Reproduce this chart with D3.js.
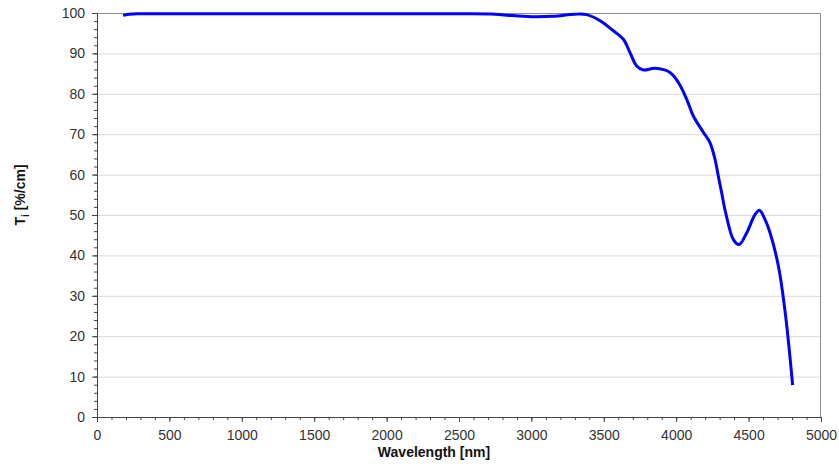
<!DOCTYPE html>
<html>
<head>
<meta charset="utf-8">
<script src="https://cdn.jsdelivr.net/npm/d3@7"></script>
<style>
  body { margin: 0; background: #fff; }
  svg { font-family: "Liberation Sans", Arial, sans-serif; }
</style>
</head>
<body>
<svg id="chart" width="839" height="467"></svg>
<script>
// wavelength in nm, internal transmittance in %/cm
const wavelength = [180, 220, 300, 500, 1000, 1500, 2000, 2500, 2750, 2850, 3000, 3150, 3300, 3380,
    3474, 3566, 3635, 3681, 3727, 3773, 3854, 3957, 4015, 4072, 4118, 4187, 4233, 4268, 4291,
    4314, 4340, 4395, 4434, 4487, 4544, 4575, 4613, 4648, 4706, 4756, 4804];
const transmission = [99.4, 99.7, 99.8, 99.8, 99.8, 99.8, 99.8, 99.8, 99.7, 99.4, 99.1, 99.2, 99.7, 99.6,
    98.1, 95.6, 93.5, 90.2, 86.9, 85.9, 86.3, 85.3, 82.8, 78.7, 74.5, 70.5, 67.9, 63.8, 59.6,
    55.5, 50.8, 43.9, 42.7, 45.6, 50.1, 51.2, 48.9, 45.6, 37.3, 24.9, 7.9];
const xTicks = d3.range(0, 5001, 500);
const yTicks = d3.range(0, 101, 10);

const svg = d3.select("#chart");
const margin = {top: 13, right: 18, bottom: 50, left: 97};
const width = +svg.attr("width") - margin.left - margin.right;
const height = +svg.attr("height") - margin.top - margin.bottom;

const x = d3.scaleLinear().domain([0, 5000]).range([0, width]);
const y = d3.scaleLinear().domain([0, 100]).range([height, 0]);

const g = svg.append("g").attr("transform", `translate(${margin.left},${margin.top})`);

// grid lines
g.append("g")
    .selectAll("line")
    .data(yTicks.filter(d => d > 0 && d < 100))
    .enter()
    .append("line")
    .attr("x1", 0)
    .attr("x2", width)
    .attr("y1", d => y(d) + 0.5)
    .attr("y2", d => y(d) + 0.5)
    .attr("stroke", "#d9d9d9");

// frame top and right
g.append("path")
    .attr("d", `M0,0.5H${width - 0.5}V${height}`)
    .attr("fill", "none")
    .attr("stroke", "#8c8c8c");

// minor ticks
g.append("g")
    .attr("transform", `translate(0,${height})`)
    .call(d3.axisBottom(x).tickValues(d3.range(0, 5001, 100)).tickSize(3).tickFormat(""))
    .call(a => a.select(".domain").remove())
    .selectAll("line").attr("stroke", "#444");
g.append("g")
    .call(d3.axisLeft(y).tickValues(d3.range(0, 101, 2)).tickSize(3).tickFormat(""))
    .call(a => a.select(".domain").remove())
    .selectAll("line").attr("stroke", "#444");

// major axes
const xAxis = g.append("g")
    .attr("transform", `translate(0,${height})`)
    .call(d3.axisBottom(x).tickValues(xTicks).tickSize(5).tickPadding(8).tickFormat(d3.format("d")));
const yAxis = g.append("g")
    .call(d3.axisLeft(y).tickValues(yTicks).tickSize(5).tickPadding(7).tickFormat(d3.format("d")));

[xAxis, yAxis].forEach(a => {
    a.select(".domain").attr("stroke", "#444");
    a.selectAll(".tick line").attr("stroke", "#444");
    a.selectAll("text")
        .attr("fill", "#333")
        .style("font-size", "14px")
        .style("font-family", "'Liberation Sans', Arial, sans-serif");
});

// the curve
const points = wavelength.map((w, i) => ({w: w, t: transmission[i]}));
const line = d3.line()
    .x(d => x(d.w))
    .y(d => y(d.t))
    .curve(d3.curveCatmullRom.alpha(0.5));

g.append("path")
    .datum(points)
    .attr("d", line)
    .attr("fill", "none")
    .attr("stroke", "#0000ff")
    .attr("stroke-width", 3)
    .attr("stroke-linejoin", "round");

// axis titles
svg.append("text")
    .attr("x", 434)
    .attr("y", 457)
    .attr("text-anchor", "middle")
    .attr("font-size", "14px")
    .attr("font-weight", "bold")
    .attr("fill", "#111")
    .text("Wavelength [nm]");

const yTitle = svg.append("text")
    .attr("transform", "translate(25,195) rotate(-90)")
    .attr("text-anchor", "middle")
    .attr("font-size", "14px")
    .attr("font-weight", "bold")
    .attr("fill", "#111");
yTitle.append("tspan").text("T");
yTitle.append("tspan").attr("dy", 4).attr("font-size", "10px").text("i");
yTitle.append("tspan").attr("dy", -4).text(" [%/cm]");
</script>
</body>
</html>
